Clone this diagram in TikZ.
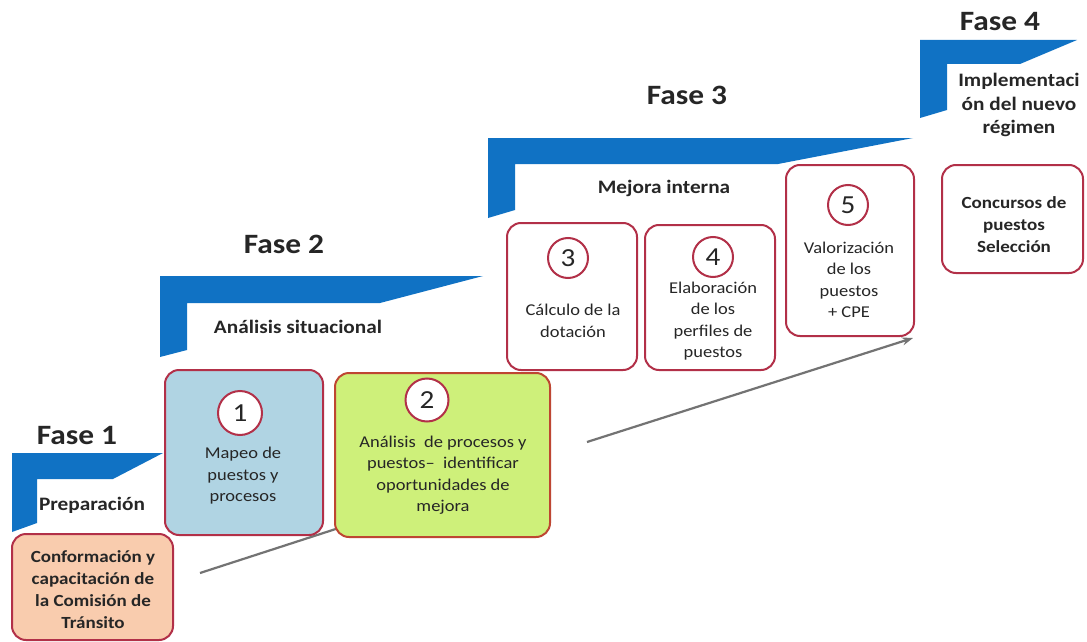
\documentclass[tikz,border=0pt]{standalone}
\usepackage{fontspec}
\setmainfont{Carlito}[FakeStretch=1.12]
\usetikzlibrary{arrows.meta}
\definecolor{bannerblue}{RGB}{16,114,196}
\definecolor{boxred}{RGB}{178,48,72}
\definecolor{fillblue}{RGB}{176,212,227}
\definecolor{fillgreen}{RGB}{206,240,122}
\definecolor{fillpeach}{RGB}{249,204,174}
\definecolor{linegray}{RGB}{115,115,115}
\definecolor{textdark}{RGB}{38,38,38}
\begin{document}
\begin{tikzpicture}[x=1pt,y=-1pt,
  banner/.style={fill=bannerblue,draw=none},
  phase/.style={font=\fontsize{28}{32}\selectfont\bfseries,text=textdark,inner sep=0pt},
  sub/.style={font=\fontsize{19}{23.5}\selectfont\bfseries,text=textdark,align=center,inner sep=0pt},
  stepbox/.style={draw=boxred,line width=2pt,rounded corners=14pt,fill=white,inner sep=0pt},
  boxtext/.style={align=center,font=\fontsize{16.5}{21.5}\selectfont,text=textdark,inner sep=0pt},
  boldtext/.style={align=center,font=\fontsize{17}{22}\selectfont\bfseries,text=textdark,inner sep=0pt},
  num/.style={circle,draw=boxred,line width=2pt,fill=white,minimum size=40pt,inner sep=0pt,font=\fontsize{26}{26}\selectfont,text=textdark},
  flow/.style={draw=linegray,line width=2.2pt}
]
\useasboundingbox (0,0) rectangle (1087,642);
\fill[white] (0,0) rectangle (1087,642);

% banners
\fill[banner] (12,453) -- (163,453) -- (113,479) -- (37,479) -- (37,523) -- (12,532) -- cycle;
\fill[banner] (160,276) -- (483,276) -- (380,303) -- (187,303) -- (187,350) -- (160,357) -- cycle;
\fill[banner] (488,138) -- (913,138) -- (778,164) -- (515,164) -- (515,210) -- (488,218) -- cycle;
\fill[banner] (920,40) -- (1077,40) -- (1020,64) -- (947,64) -- (947,110) -- (920,118) -- cycle;

% phase titles
\node[phase] (f1) at (77,436) {Fase 1};
\node[phase] (f2) at (284,244) {Fase 2};
\node[phase] (f3) at (687,95) {Fase 3};
\node[phase] (f4) at (1000,22) {Fase 4};

% subtitles
\node[sub] (s1) at (92,505) {Preparación};
\node[sub] (s2) at (298,327) {Análisis situacional};
\node[sub] (s3) at (664,188) {Mejora interna};
\node[sub] (s4) at (1019,105) {Implementaci\\ón del nuevo\\régimen};

% flow lines
\coordinate (a1) at (200,573);
\coordinate (a2) at (345,526);
\coordinate (b1) at (587,442);
\coordinate (b2) at (913,338);
\draw[flow] (a1) -- (a2);
\draw[flow,-{Stealth[length=11pt,width=8pt]}] (b1) -- (b2);

% boxes
\node[stepbox,fill=fillpeach,minimum width=161pt,minimum height=106pt] (b0) at (92.5,587) {};
\node[boldtext] (t0) at (93,590) {Conformación y\\capacitación de\\la Comisión de\\Tránsito};

\node[stepbox,fill=fillblue,minimum width=158pt,minimum height=165pt] (bx1) at (244,452.5) {};
\node[num,minimum size=44pt] (n1) at (240,413) {1};
\node[boxtext] (t1) at (243,476) {Mapeo de\\puestos y\\procesos};

\node[stepbox,draw={rgb,255:red,190;green,70;blue,50},fill=fillgreen,minimum width=215pt,minimum height=164pt] (bx2) at (442.5,455) {};
\node[num,minimum size=43pt] (n2) at (427,400) {2};
\node[boxtext] (t2) at (443,475) {Análisis \ de procesos y\\puestos–\ \ identificar\\oportunidades de\\mejora};

\node[stepbox,minimum width=130pt,minimum height=147pt] (bx3) at (572,296.5) {};
\node[num] (n3) at (568,258) {3};
\node[boxtext] (t3) at (573,321) {Cálculo de la\\dotación};

\node[stepbox,minimum width=130pt,minimum height=145pt] (bx4) at (710,297.5) {};
\node[num] (n4) at (713,257) {4};
\node[boxtext] (t4) at (713,321) {Elaboración\\de los\\perfiles de\\puestos};

\node[stepbox,minimum width=128pt,minimum height=171pt] (bx5) at (850,250.5) {};
\node[num] (n5) at (848,205) {5};
\node[boxtext] (t5) at (849,280) {Valorización\\de los\\puestos\\+ CPE};

\node[stepbox,minimum width=141pt,minimum height=108pt] (bx6) at (1012.5,219) {};
\node[boldtext] (t6) at (1014,225) {Concursos de\\puestos\\Selección};
\end{tikzpicture}
\end{document}
